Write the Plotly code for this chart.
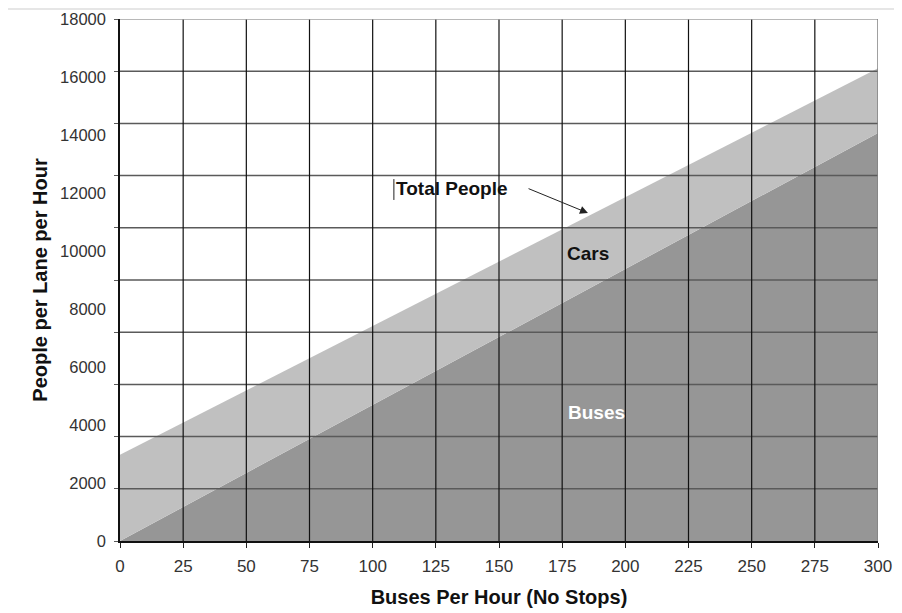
import plotly.graph_objects as go

# Data
buses_per_hour = [0, 300]
bus_people = [0, 14070]
total_people = [2970, 16300]

x_ticks = list(range(0, 301, 25))
y_ticks = list(range(0, 18001, 2000))
x_grid = list(range(25, 300, 25))
y_grid = list(range(1800, 18000, 1800))

FONT = "Liberation Sans, Arial, sans-serif"

fig = go.Figure()
fig.add_trace(go.Scatter(
    x=buses_per_hour, y=bus_people, fill="tozeroy", fillcolor="#969696",
    mode="lines", line=dict(width=0, color="#969696"), name="Buses",
    showlegend=False, hoverinfo="skip"))
fig.add_trace(go.Scatter(
    x=buses_per_hour, y=total_people, fill="tonexty", fillcolor="#c0c0c0",
    mode="lines", line=dict(width=0, color="#c0c0c0"), name="Total People",
    showlegend=False, hoverinfo="skip"))

shapes = []
for v in y_grid:
    shapes.append(dict(type="line", xref="x", yref="y", x0=0, x1=300, y0=v, y1=v,
                       line=dict(color="#5a5a5a", width=1.5), layer="above"))
for v in x_grid:
    shapes.append(dict(type="line", xref="x", yref="y", x0=v, x1=v, y0=0, y1=18000,
                       line=dict(color="#111111", width=1.2), layer="above"))
# plot border top/right
shapes.append(dict(type="line", xref="x", yref="y", x0=0, x1=300, y0=18000, y1=18000,
                   line=dict(color="#a0a0a0", width=1.5), layer="above"))
shapes.append(dict(type="line", xref="x", yref="y", x0=300, x1=300, y0=0, y1=18000,
                   line=dict(color="#808080", width=1.5), layer="above"))
# page edge line at top
shapes.append(dict(type="line", xref="paper", yref="paper", x0=-0.16, x1=1.05, y0=1.019, y1=1.019,
                   line=dict(color="#e6e6e6", width=2), layer="above"))
# text cursor artifact near label
shapes.append(dict(type="line", xref="x", yref="y", x0=108.4, x1=108.4, y0=11760, y1=12480,
                   line=dict(color="#222222", width=1), layer="above"))

annotations = [
    dict(x=131.4, y=12140, xref="x", yref="y", text="<b>Total People</b>", showarrow=False,
         font=dict(family=FONT, size=19, color="#111111")),
    dict(x=185.2, y=11310, xref="x", yref="y", ax=161.1, ay=12172, axref="x", ayref="y",
         text="", showarrow=True, arrowhead=2, arrowsize=1.6, arrowwidth=1, arrowcolor="#222222"),
    dict(x=185.2, y=9931, xref="x", yref="y", text="<b>Cars</b>", showarrow=False,
         font=dict(family=FONT, size=19, color="#111111")),
    dict(x=188.4, y=4448, xref="x", yref="y", text="<b>Buses</b>", showarrow=False,
         font=dict(family=FONT, size=19, color="#ffffff")),
]

fig.update_layout(
    width=902, height=613,
    margin=dict(l=112, r=32, t=11, b=80, autoexpand=False),
    paper_bgcolor="white", plot_bgcolor="white",
    font=dict(family=FONT, color="#333333"),
    shapes=shapes, annotations=annotations,
    xaxis=dict(
        range=[0, 300], tickvals=x_ticks, ticktext=[str(v) for v in x_ticks],
        ticks="outside", ticklen=5, tickcolor="#222222", tickwidth=1.2,
        ticklabelstandoff=4, automargin=False,
        showline=True, linecolor="#111111", linewidth=1.5,
        showgrid=False, zeroline=False, layer="above traces",
        tickfont=dict(family=FONT, size=17, color="#333333"),
        title=dict(text="<b>Buses Per Hour (No Stops)</b>", standoff=15,
                   font=dict(family=FONT, size=20, color="#111111")),
    ),
    yaxis=dict(
        range=[0, 18000], tickvals=y_ticks, ticktext=[str(v) for v in y_ticks],
        ticks="", ticklabelstandoff=9, automargin=False,
        minor=dict(tick0=0, dtick=1800, ticks="outside", ticklen=4, tickcolor="#5a5a5a", showgrid=False),
        showline=True, linecolor="#111111", linewidth=1.5,
        showgrid=False, zeroline=False, layer="above traces",
        tickfont=dict(family=FONT, size=16.5, color="#333333"),
        title=dict(text="<b>People per Lane per Hour</b>", standoff=7,
                   font=dict(family=FONT, size=20, color="#111111")),
    ),
)

fig.write_html("out.html")
